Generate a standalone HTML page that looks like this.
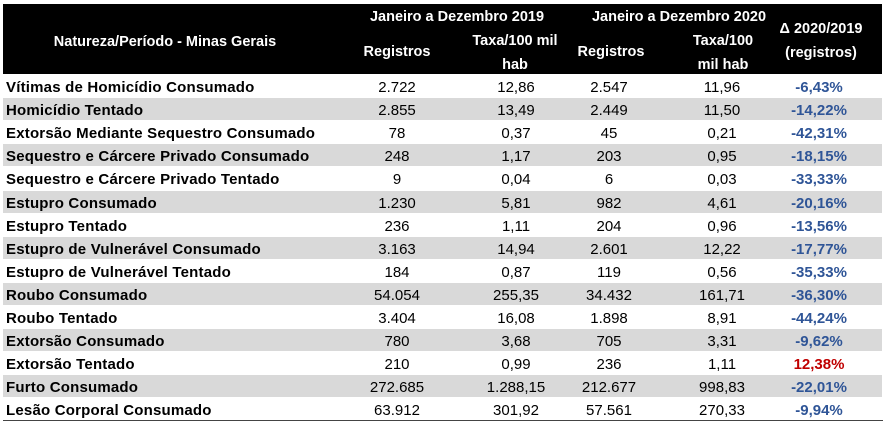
<!DOCTYPE html>
<html><head><meta charset="utf-8"><style>
body{margin:0;width:886px;height:425px;background:#fff;overflow:hidden;font-family:"Liberation Sans",sans-serif;}
.hdr{position:absolute;left:3px;top:4px;width:879px;height:70px;background:#000;}
.t{position:absolute;color:#fff;font-weight:bold;font-size:14.5px;white-space:nowrap;transform:translateX(-50%);text-align:center;line-height:24px}
.row{position:absolute;left:3px;width:879px;height:22px;}
.row.g{background:#d9d9d9}
.c{position:absolute;top:2px;line-height:22px;font-size:15px;color:#000;white-space:nowrap;transform:translateX(-50%)}
.l{position:absolute;left:3px;top:2px;line-height:22px;font-size:15px;font-weight:bold;color:#000;white-space:nowrap;letter-spacing:0.2px}
.d{font-weight:bold;color:#2f5597}
.r{color:#c00000}
.line{position:absolute;left:3px;top:420px;width:880px;height:1px;background:#444}
</style></head><body>
<div class="hdr"></div>
<div class="t" style="left:165px;top:30px">Natureza/Período - Minas Gerais</div>
<div class="t" style="left:457px;top:5px">Janeiro a Dezembro 2019</div>
<div class="t" style="left:679px;top:5px">Janeiro a Dezembro 2020</div>
<div class="t" style="left:397px;top:40px">Registros</div>
<div class="t" style="left:515px;top:29px">Taxa/100 mil<br>hab</div>
<div class="t" style="left:611px;top:40px">Registros</div>
<div class="t" style="left:723px;top:29px">Taxa/100<br>mil hab</div>
<div class="t" style="left:821px;top:17px">Δ 2020/2019<br>(registros)</div>
<div id="rows"></div>
<div class="line"></div>
<script>
var d=[["Vítimas de Homicídio Consumado","2.722","12,86","2.547","11,96","-6,43%"],
["Homicídio Tentado","2.855","13,49","2.449","11,50","-14,22%"],
["Extorsão Mediante Sequestro Consumado","78","0,37","45","0,21","-42,31%"],
["Sequestro e Cárcere Privado Consumado","248","1,17","203","0,95","-18,15%"],
["Sequestro e Cárcere Privado Tentado","9","0,04","6","0,03","-33,33%"],
["Estupro Consumado","1.230","5,81","982","4,61","-20,16%"],
["Estupro Tentado","236","1,11","204","0,96","-13,56%"],
["Estupro de Vulnerável Consumado","3.163","14,94","2.601","12,22","-17,77%"],
["Estupro de Vulnerável Tentado","184","0,87","119","0,56","-35,33%"],
["Roubo Consumado","54.054","255,35","34.432","161,71","-36,30%"],
["Roubo Tentado","3.404","16,08","1.898","8,91","-44,24%"],
["Extorsão Consumado","780","3,68","705","3,31","-9,62%"],
["Extorsão Tentado","210","0,99","236","1,11","12,38%"],
["Furto Consumado","272.685","1.288,15","212.677","998,83","-22,01%"],
["Lesão Corporal Consumado","63.912","301,92","57.561","270,33","-9,94%"]];
var xs=[397,516,609,722,819],h="";
d.forEach(function(r,i){
 var top=75+i*23.1;
 h+='<div class="row'+(i%2?' g':'')+'" style="top:'+top.toFixed(1)+'px"><div class="l">'+r[0]+'</div>';
 for(var j=1;j<6;j++){
  var cls='c'+(j==5?' d'+(r[5][0]!='-'?' r':''):'');
  h+='<div class="'+cls+'" style="left:'+(xs[j-1]-3)+'px">'+r[j]+'</div>';
 }
 h+='</div>';
});
document.getElementById('rows').innerHTML=h;
</script>
</body></html>
